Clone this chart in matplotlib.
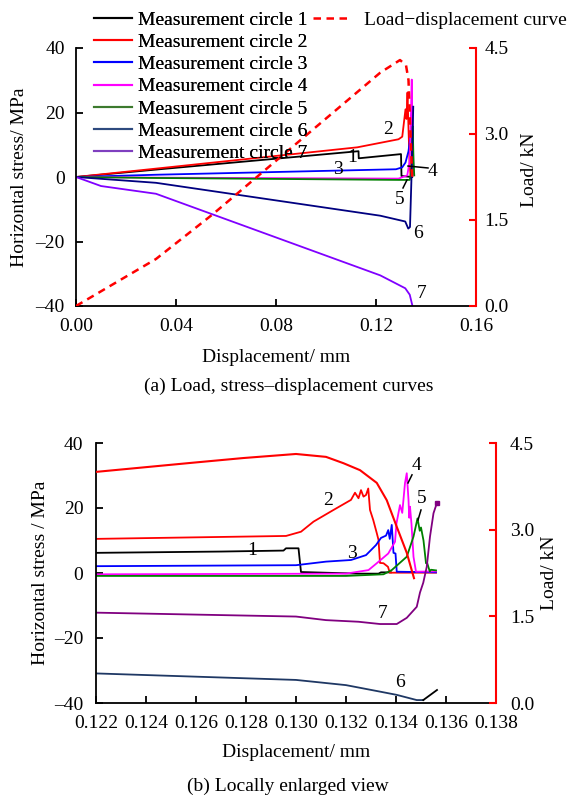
import matplotlib
matplotlib.use("Agg")
import matplotlib.pyplot as plt
from matplotlib.lines import Line2D

plt.rcParams['font.family'] = ['Liberation Serif', 'DejaVu Serif']
plt.rcParams['font.size'] = 14
plt.rcParams['axes.unicode_minus'] = True

# ---------------- data: panel (a) ----------------
c1_top_x = [0, 0.032, 0.1130, 0.1131, 0.1300, 0.1302, 0.1345]
c1_top_y = [0, 2.3, 8.0, 5.8, 7.1, 0.3, 0.0]
c2_top_x = [0, 0.032, 0.1125, 0.1290, 0.1305, 0.1318, 0.1322, 0.1326, 0.1330, 0.1334, 0.1338, 0.1345]
c2_top_y = [0, 2.6, 9.2, 11.7, 12.5, 21.0, 18.0, 26.2, 15.0, 5.0, 0.5, 0.3]
c3_top_x = [0, 0.032, 0.1280, 0.1305, 0.1318, 0.1330, 0.1340, 0.1345, 0.1350]
c3_top_y = [0, 0.7, 2.4, 3.0, 4.5, 8.0, 14.0, 21.8, 1.0]
c4_top_x = [0, 0.032, 0.1290, 0.1325, 0.1335, 0.1340, 0.1343, 0.1347]
c4_top_y = [0, -0.2, -0.5, 0.5, 5.0, 20.0, 30.2, 0.5]
c5_top_x = [0, 0.032, 0.1290, 0.1335, 0.1342, 0.1347, 0.1350, 0.1353]
c5_top_y = [0, -0.3, -0.9, -0.9, 2.0, 15.7, 5.0, 0.5]
c6_top_x = [0, 0.032, 0.1217, 0.1317, 0.1329, 0.1336, 0.1342, 0.1349]
c6_top_y = [0, -1.8, -12.0, -13.8, -16.0, -15.5, 0.0, 21.8]
c7_top_x = [0, 0.010, 0.032, 0.1217, 0.1317, 0.1335, 0.1345]
c7_top_y = [0, -2.8, -5.2, -30.5, -34.5, -36.5, -39.7]
load_top_x = [0, 0.032, 0.0547, 0.1217, 0.1296, 0.1320, 0.1330, 0.1338, 0.1345]
load_top_y = [0, 0.82, 1.6, 4.07, 4.29, 4.2, 3.94, 3.0, 2.2]

# ---------------- data: panel (b) ----------------
c1_b_x = [0.122, 0.127, 0.1295, 0.1296, 0.1301, 0.1302, 0.1325, 0.1333, 0.1334, 0.1338]
c1_b_y = [6.2, 6.6, 6.9, 7.6, 7.6, 0.3, -0.2, -0.2, 0.2, 0.2]
c2_b_x = [0.122, 0.1296, 0.1302, 0.1307, 0.1315, 0.1322, 0.13236, 0.1325, 0.1326, 0.1327,
          0.1328, 0.13289, 0.13296, 0.13309, 0.13323, 0.1333, 0.13336, 0.1335, 0.13368,
          0.13375, 0.1356]
c2_b_y = [10.5, 11.4, 12.7, 15.8, 19.4, 22.5, 24.7, 23.0, 25.5, 23.5,
          24.0, 26.0, 19.4, 16.3, 12.3, 10.2, 3.1, 3.0, 1.9,
          0.1, 0.1]
c3_b_x = [0.122, 0.130, 0.1312, 0.1322, 0.1328, 0.1332, 0.1334, 0.1336, 0.13369, 0.13375,
          0.13383, 0.1339, 0.13398, 0.13403, 0.1356]
c3_b_y = [2.1, 2.4, 3.5, 4.0, 5.5, 8.6, 10.8, 11.5, 13.2, 10.5,
          14.8, 6.2, 6.0, 0.4, 0.2]
c4_b_x = [0.122, 0.1320, 0.1329, 0.13323, 0.13369, 0.13396, 0.13402, 0.13416, 0.13425,
          0.13436, 0.13443, 0.1345, 0.13453, 0.13456, 0.13462, 0.1347, 0.1348, 0.1356]
c4_b_y = [-0.4, -0.2, 0.9, 3.0, 6.0, 9.6, 15.3, 20.9, 18.5,
          27.7, 30.7, 22.5, 17.0, 20.4, 15.0, 5.0, 0.4, 0.5]
c5_b_x = [0.122, 0.132, 0.1335, 0.13383, 0.13443, 0.1347, 0.13486, 0.13495, 0.1350,
          0.1351, 0.1352, 0.13525, 0.13535, 0.1354, 0.1356]
c5_b_y = [-0.9, -0.9, -0.4, 0.9, 5.0, 11.2, 16.8, 13.0, 14.0,
          10.0, 3.0, 3.0, 0.5, 1.0, 0.8]
c6_b_x = [0.122, 0.130, 0.132, 0.13336, 0.13403, 0.13483, 0.13509]
c6_b_y = [-30.9, -32.9, -34.5, -36.5, -37.5, -39.1, -39.1]
c6_tail_x = [0.13509, 0.13564]
c6_tail_y = [-39.1, -36.0]
c7_b_x = [0.122, 0.130, 0.1312, 0.1325, 0.13336, 0.13403, 0.13443, 0.13483, 0.13496,
          0.13509, 0.13523, 0.13536, 0.1355, 0.13563]
c7_b_y = [-12.2, -13.4, -14.5, -15.0, -15.7, -15.7, -13.8, -10.4, -6.0,
          -3.0, 1.9, 11.2, 18.4, 21.4]
load_b_x = [0.122, 0.1259, 0.1279, 0.1300, 0.1312, 0.1319, 0.13256, 0.13323, 0.13363,
            0.13403, 0.13443, 0.13472]
load_b_y = [4.0, 4.16, 4.24, 4.31, 4.26, 4.15, 4.03, 3.81, 3.51, 3.05, 2.60, 2.16]

# tick values / labels
stress_ticks = [-40, -20, 0, 20, 40]
stress_labels = ['\u201340', '\u201320', '0', '20', '40']
load_ticks = [0.0, 1.5, 3.0, 4.5]
load_labels = ['0.0', '1.5', '3.0', '4.5']
top_xticks = [0.00, 0.04, 0.08, 0.12, 0.16]
top_xlabels = ['0.00', '0.04', '0.08', '0.12', '0.16']
bot_xticks = [0.122, 0.124, 0.126, 0.128, 0.130, 0.132, 0.134, 0.136, 0.138]
bot_xlabels = ['0.122', '0.124', '0.126', '0.128', '0.130', '0.132', '0.134', '0.136', '0.138']

legend_labels = ['Measurement circle 1', 'Measurement circle 2', 'Measurement circle 3',
                 'Measurement circle 4', 'Measurement circle 5', 'Measurement circle 6',
                 'Measurement circle 7']
legend_colors = ['#000000', '#FF0000', '#0000FF', '#FF00FF', '#3C7A2E', '#2E4A7E', '#7F3FBF']

top_labels = ['1', '2', '3', '4', '5', '6', '7']
top_label_x = [0.1104, 0.1248, 0.1048, 0.1428, 0.1296, 0.1368, 0.1384]
top_label_y = [5.9, 14.6, 2.2, 1.6, -7.1, -17.4, -36.0]
bot_label_x = [0.12823, 0.13127, 0.13225, 0.1348, 0.13503, 0.13416, 0.13345]
bot_label_y = [6.8, 22.3, 6.0, 33.0, 23.0, -33.6, -12.4]

W, H = 571, 798
fig = plt.figure(figsize=(W / 100, H / 100), dpi=100)

LW = 1.3


def style_axes(ax, ax2, xticks, xlabels, xlim, xpad, ypad, rpad):
    ax.set_xlim(*xlim)
    ax.set_ylim(-40, 40)
    ax.set_xticks(xticks, xlabels)
    ax.set_yticks(stress_ticks, stress_labels)
    ax.spines['top'].set_visible(False)
    ax.spines['right'].set_visible(False)
    for s in ('left', 'bottom'):
        ax.spines[s].set_linewidth(1.3)
    ax.tick_params(direction='in', length=5, width=1.3, labelsize=14)
    ax.tick_params(axis='x', pad=xpad)
    ax.tick_params(axis='y', pad=ypad)
    ax2.set_ylim(0, 4.5)
    ax2.set_yticks(load_ticks, load_labels)
    for s in ('top', 'left', 'bottom'):
        ax2.spines[s].set_visible(False)
    ax2.spines['right'].set_color('#FF0000')
    ax2.spines['right'].set_linewidth(1.5)
    ax2.tick_params(direction='in', length=5, width=1.5, color='#FF0000',
                    labelcolor='black', labelsize=14, pad=rpad)


# ---------------- panel (a) ----------------
ax = fig.add_axes([76 / W, 1 - 306 / H, 400 / W, 258 / H])
ax2 = ax.twinx()
style_axes(ax, ax2, top_xticks, top_xlabels, (0, 0.16), 8.5, 8, 6)
ax.plot(c1_top_x, c1_top_y, color='#000000', lw=LW)
ax.plot(c2_top_x, c2_top_y, color='#FF0000', lw=LW)
ax.plot(c3_top_x, c3_top_y, color='#0000FF', lw=LW)
ax.plot(c4_top_x, c4_top_y, color='#FF00FF', lw=LW)
ax.plot(c5_top_x, c5_top_y, color='#008000', lw=LW)
ax.plot(c6_top_x, c6_top_y, color='#000080', lw=LW)
ax.plot(c7_top_x, c7_top_y, color='#8000FF', lw=LW)
ax2.plot(load_top_x, load_top_y, color='#FF0000', lw=1.8, ls=(0, (3, 2.2)))
for t, x, y in zip(top_labels, top_label_x, top_label_y):
    ax.text(x, y, t, ha='center', va='center', fontsize=14)
ax.plot([0.1328, 0.1408], [3.4, 2.8], color='black', lw=1.1)
ax.plot([0.1308, 0.1324], [-3.4, -0.9], color='black', lw=1.1)
ax.set_xlabel('Displacement/ mm', fontsize=14)
ax.xaxis.set_label_coords(0.5, -0.167)
ax.set_ylabel('Horizontal stress/ MPa', fontsize=14)
ax.yaxis.set_label_coords(-0.12, 0.5)
ax2.set_ylabel('Load/ kN', fontsize=14)
ax2.yaxis.set_label_coords(1.113, 0.53)
fig.text(0.505, 1 - 386 / H, '(a) Load, stress\u2013displacement curves',
         ha='center', va='center', fontsize=14)

# ---------------- panel (b) ----------------
bx = fig.add_axes([96 / W, 1 - 703 / H, 400 / W, 260 / H])
bx2 = bx.twinx()
style_axes(bx, bx2, bot_xticks, bot_xlabels, (0.122, 0.138), 9, 9, 10)
bx.plot(c1_b_x, c1_b_y, color='#000000', lw=LW)
bx.plot(c2_b_x, c2_b_y, color='#FF0000', lw=LW)
bx.plot(c3_b_x, c3_b_y, color='#0000FF', lw=LW)
bx.plot(c4_b_x, c4_b_y, color='#FF00FF', lw=LW)
bx.plot(c5_b_x, c5_b_y, color='#008000', lw=LW)
bx.plot(c6_b_x, c6_b_y, color='#1F3864', lw=LW)
bx.plot(c6_tail_x, c6_tail_y, color='#000000', lw=LW)
bx.plot(c7_b_x, c7_b_y, color='#800080', lw=LW, marker='s', markersize=3,
        markevery=[len(c7_b_x) - 1])
bx2.plot(load_b_x, load_b_y, color='#FF0000', lw=1.5)
for t, x, y in zip(top_labels, bot_label_x, bot_label_y):
    bx.text(x, y, t, ha='center', va='center', fontsize=14)
bx.plot([0.13448, 0.13464], [27.7, 30.2], color='black', lw=1.1)
bx.plot([0.13488, 0.1350], [16.3, 19.4], color='black', lw=1.1)
bx.set_xlabel('Displacement/ mm', fontsize=14)
bx.xaxis.set_label_coords(0.5, -0.158)
bx.set_ylabel('Horizontal stress / MPa', fontsize=14)
bx.yaxis.set_label_coords(-0.118, 0.5)
bx2.set_ylabel('Load/ kN', fontsize=14)
bx2.yaxis.set_label_coords(1.112, 0.5)
fig.text(0.505, 1 - 786 / H, '(b) Locally enlarged view',
         ha='center', va='center', fontsize=14)

# ---------------- legends ----------------
handles = [Line2D([], [], color=c, lw=1.5) for c in legend_colors]
leg1 = fig.legend(handles, legend_labels, loc='upper left',
                  bbox_to_anchor=(94 / W, 1 - 11 / H), frameon=False, fontsize=14,
                  handlelength=1.95, handletextpad=0.3, labelspacing=0.24,
                  borderpad=0, borderaxespad=0)
h_load = [Line2D([], [], color='#FF0000', lw=1.8, ls=(0, (3, 2.2)))]
leg2 = fig.legend(h_load, ['Load\u2212displacement curve'], loc='upper left',
                  bbox_to_anchor=(313 / W, 1 - 11 / H), frameon=False, fontsize=14,
                  handlelength=1.95, handletextpad=0.65, borderpad=0, borderaxespad=0)
fig.add_artist(leg1)

fig.savefig('out.png', dpi=100)
